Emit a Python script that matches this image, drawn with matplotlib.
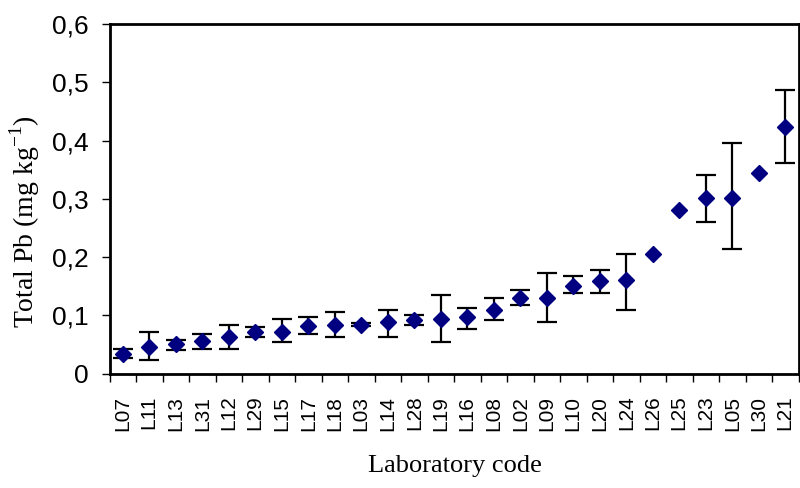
import numpy as np
import matplotlib
matplotlib.use('Agg')
import matplotlib.pyplot as plt
from matplotlib.ticker import FuncFormatter

labs = ['L07', 'L11', 'L13', 'L31', 'L12', 'L29', 'L15', 'L17', 'L18', 'L03',
        'L14', 'L28', 'L19', 'L16', 'L08', 'L02', 'L09', 'L10', 'L20', 'L24',
        'L26', 'L25', 'L23', 'L05', 'L30', 'L21']
pb = [0.034, 0.046, 0.050, 0.055, 0.063, 0.071, 0.072, 0.081, 0.084, 0.084,
      0.088, 0.092, 0.093, 0.097, 0.109, 0.129, 0.129, 0.151, 0.158, 0.160,
      0.206, 0.281, 0.302, 0.302, 0.344, 0.424]
err_lo = [0.007, 0.022, 0.009, 0.013, 0.021, 0.009, 0.018, 0.014, 0.021, 0.003,
          0.025, 0.008, 0.039, 0.021, 0.017, 0.012, 0.041, 0.012, 0.019, 0.051,
          0.0, 0.0, 0.042, 0.088, 0.0, 0.063]
err_hi = [0.008, 0.025, 0.008, 0.013, 0.021, 0.009, 0.021, 0.016, 0.021, 0.003,
          0.021, 0.009, 0.041, 0.016, 0.021, 0.014, 0.043, 0.017, 0.019, 0.046,
          0.0, 0.0, 0.038, 0.093, 0.0, 0.062]

fig = plt.figure(figsize=(8, 4.88), dpi=100)
ax = fig.add_axes([109.5/800, 1-373.5/488, 689/800, 349.5/488])

x = np.arange(len(labs))
pb = np.array(pb)
lo = np.array(err_lo)
hi = np.array(err_hi)
has = (lo + hi) > 0  # points without error bars
ax.errorbar(x[has], pb[has], yerr=[lo[has], hi[has]], fmt='none', ecolor='black',
            elinewidth=1.6, capsize=7.5, capthick=1.6, zorder=2)
ax.plot(x, pb, linestyle='none', marker='D', markersize=8,
        color='#000080', zorder=3)

ax.set_xlim(-0.5, len(labs) - 0.5)
ax.set_ylim(0, 0.6)
ax.set_yticks(np.arange(0, 0.61, 0.1))
ax.yaxis.set_major_formatter(FuncFormatter(
    lambda v, p: '0' if abs(v) < 1e-9 else ('%.1f' % v).replace('.', ',')))
ax.tick_params(axis='y', direction='out', length=6, width=1, labelsize=19, pad=9)

ax.set_xticks(x)
ax.set_xticklabels(labs, rotation=90, fontsize=15)
ax.set_xticks(np.arange(len(labs) + 1) - 0.5, minor=True)
ax.tick_params(axis='x', which='major', length=0, pad=16)
ax.tick_params(axis='x', which='minor', direction='out', length=6, width=1)

for s in ax.spines.values():
    s.set_linewidth(2)

fig.text(25/800, 1-222/488, 'Total Pb (mg kg$^{\\mathregular{-1}}$)',
         rotation=90, ha='center', va='center', fontsize=20,
         family='Liberation Serif')
fig.text(455/800, 1-466/488, 'Laboratory code', ha='center', va='center',
         fontsize=19, family='Liberation Serif')

for t in ax.get_xticklabels() + ax.get_yticklabels():
    t.set_family('Liberation Sans')

fig.savefig('out.png', dpi=100)
